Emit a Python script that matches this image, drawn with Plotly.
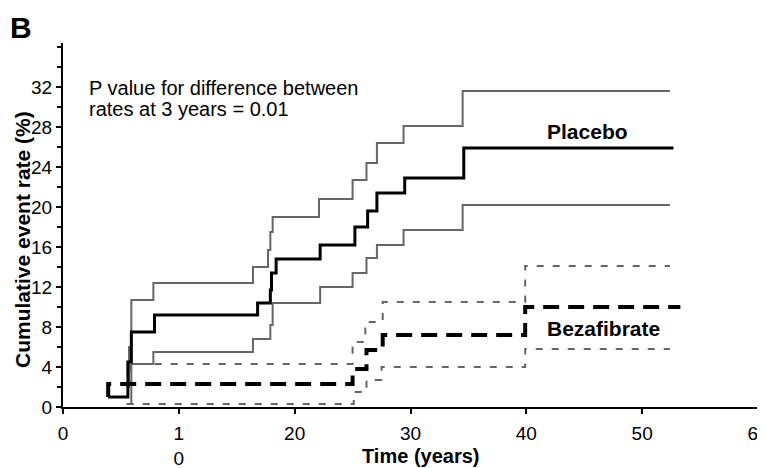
import plotly.graph_objects as go

# ---- data ----
placebo_t = [3.9, 5.6, 5.9, 7.9, 16.8, 17.9, 18.0, 18.4, 22.2, 25.2, 26.3, 27.1, 29.5, 34.6, 52.7]
placebo_y = [1.0, 4.5, 7.5, 9.2, 10.4, 11.7, 13.4, 14.8, 16.2, 18.0, 19.6, 21.4, 22.9, 25.9, 25.9]

placebo_hi_t = [5.5, 5.7, 5.9, 7.8, 16.4, 17.7, 17.9, 18.1, 22.1, 25.0, 26.2, 27.1, 29.4, 34.5, 52.4]
placebo_hi_y = [2.0, 6.0, 10.7, 12.4, 14.0, 15.7, 17.5, 19.0, 20.8, 22.7, 24.4, 26.4, 28.1, 31.6, 31.6]

placebo_lo_t = [5.5, 5.9, 7.8, 16.4, 17.9, 18.1, 22.2, 25.0, 26.2, 27.1, 29.4, 34.5, 52.4]
placebo_lo_y = [0.3, 4.3, 5.5, 6.8, 8.2, 10.4, 12.0, 13.4, 14.9, 16.2, 17.7, 20.2, 20.2]

beza_t = [3.9, 3.9, 25.0, 26.2, 27.6, 39.9, 53.3]
beza_y = [1.0, 2.3, 3.8, 5.7, 7.2, 10.0, 10.0]

beza_hi_t = [5.5, 5.8, 25.0, 26.1, 27.6, 39.9, 52.4]
beza_hi_y = [2.3, 4.3, 6.5, 8.5, 10.5, 14.1, 14.1]

beza_lo_t = [5.5, 25.1, 26.2, 27.5, 39.9, 52.4]
beza_lo_y = [0.3, 1.5, 2.7, 4.0, 5.8, 5.8]

x_tickvals = [0, 10, 20, 30, 40, 50, 60]
x_ticktext = ["0", "1<br>0", "20", "30", "40", "50", "60"]
y_tickvals = [0, 4, 8, 12, 16, 20, 24, 28, 32]

FONT = "Liberation Sans, Arial, Helvetica, sans-serif"

# page geometry: the html body adds an 8px margin around the figure
OFF = 8
W, H = 765, 468
PW, PH = 695, 364               # plot area size in pixels
L, T = 63 - OFF, 43 - OFF       # plot area left / top inside the figure
R, B = W - L - PW, H - T - PH


def px(xp, yp):
    """page pixel -> paper coordinates"""
    return (xp - OFF - L) / PW, (T + PH - (yp - OFF)) / PH


fig = go.Figure()

ci_grey = "#666666"
fig.add_trace(go.Scatter(x=placebo_hi_t, y=placebo_hi_y, mode="lines", line_shape="hv",
                         line=dict(color=ci_grey, width=2), showlegend=False))
fig.add_trace(go.Scatter(x=placebo_lo_t, y=placebo_lo_y, mode="lines", line_shape="hv",
                         line=dict(color=ci_grey, width=2), showlegend=False))
fig.add_trace(go.Scatter(x=beza_hi_t, y=beza_hi_y, mode="lines", line_shape="hv",
                         line=dict(color=ci_grey, width=2, dash="7px,9px"), showlegend=False))
fig.add_trace(go.Scatter(x=beza_lo_t, y=beza_lo_y, mode="lines", line_shape="hv",
                         line=dict(color=ci_grey, width=2, dash="7px,9px"), showlegend=False))
fig.add_trace(go.Scatter(x=placebo_t, y=placebo_y, mode="lines", line_shape="hv",
                         line=dict(color="black", width=3), showlegend=False))
fig.add_trace(go.Scatter(x=beza_t, y=beza_y, mode="lines", line_shape="hv",
                         line=dict(color="black", width=4, dash="16px,9px"), showlegend=False))

annotations = []


def add_text(text, xp, yp, size, bold=False, xanchor="center", textangle=0):
    ax, ay = px(xp, yp)
    annotations.append(dict(
        text=f"<b>{text}</b>" if bold else text,
        x=ax, y=ay, xref="paper", yref="paper", showarrow=False,
        xanchor=xanchor, yanchor="middle", textangle=textangle,
        font=dict(family=FONT, size=size, color="black")))


add_text("B", 8, 28, 30, bold=True, xanchor="left")
add_text("P value for difference between", 87, 88, 20, xanchor="left")
add_text("rates at 3 years = 0.01", 87, 109, 20, xanchor="left")
add_text("Placebo", 587, 131, 21, bold=True)
add_text("Bezafibrate", 603, 328, 21, bold=True)
add_text("Time (years)", 420, 456, 20, bold=True)
add_text("Cumulative event rate (%)", 22, 240, 21, bold=True, textangle=-90)

fig.update_layout(
    width=W, height=H,
    margin=dict(l=L, r=R, t=T, b=B, pad=0, autoexpand=False),
    paper_bgcolor="white", plot_bgcolor="white",
    annotations=annotations,
    font=dict(family=FONT, color="black"),
    xaxis=dict(range=[0, 60], tickvals=x_tickvals, ticktext=x_ticktext, automargin=False,
               showgrid=False, zeroline=False, showline=True, linecolor="black", linewidth=2,
               ticks="outside", ticklen=5, tickwidth=2, tickcolor="black",
               tickfont=dict(family=FONT, size=19, color="black"), ticklabelstandoff=3),
    yaxis=dict(range=[0, 36.4], tickvals=y_tickvals, automargin=False,
               showgrid=False, zeroline=False, showline=True, linecolor="black", linewidth=2,
               ticks="outside", ticklen=5, tickwidth=2, tickcolor="black",
               minor=dict(dtick=2, tick0=0, ticks="outside", ticklen=4, tickwidth=1.5, tickcolor="black", showgrid=False),
               tickfont=dict(family=FONT, size=19, color="black"), ticklabelstandoff=0),
)

fig.write_html("out.html", config={"displayModeBar": False})
